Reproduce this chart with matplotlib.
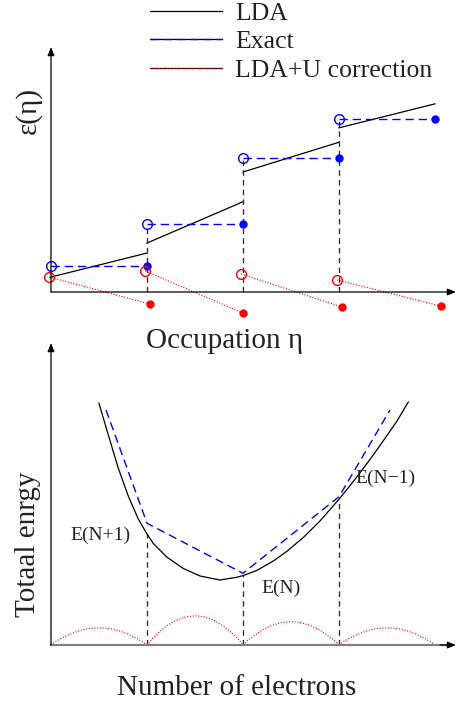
import matplotlib
matplotlib.use('Agg')
import matplotlib.pyplot as plt
from matplotlib.lines import Line2D
from matplotlib.legend_handler import HandlerTuple

plt.rcParams['font.family'] = ['Liberation Serif', 'DejaVu Serif']

# --- top panel: eigenvalue vs occupation ---
lda_x = [[0, 1], [1, 2], [2, 3], [3, 4]]
lda_y = [[0.156, 0.406], [0.51, 0.94], [1.25, 1.56], [1.71, 1.96]]
exact_lo = [0, 1, 2, 3]
exact_hi = [1, 2, 3, 4]
exact_y = [0.27, 0.71, 1.40, 1.80]
red_open_x = [-0.02, 0.98, 1.98, 2.98]
red_open_y = [0.156, 0.219, 0.188, 0.125]
red_fill_x = [1.03, 2.0, 3.03, 4.06]
red_fill_y = [-0.125, -0.219, -0.156, -0.146]
jump_x = [1, 2, 3]
jump_top = [0.71, 1.40, 1.80]

# --- bottom panel: total energy vs number of electrons ---
curve_x = [0.500, 0.597, 0.701, 0.805, 0.909, 1.000, 1.066, 1.205, 1.378, 1.552,
           1.760, 1.934, 2.003, 2.143, 2.316, 2.455, 2.628, 2.802, 2.993, 3.149,
           3.305, 3.427, 3.601, 3.722]
curve_y = [2.518, 2.188, 1.841, 1.552, 1.3125, 1.156, 1.057, 0.917, 0.797, 0.719,
           0.677, 0.705, 0.724, 0.776, 0.875, 0.974, 1.120, 1.292, 1.510, 1.703,
           1.909, 2.078, 2.328, 2.531]
exact_ex = [0.573, 1.0, 2.0, 3.0, 3.531]
exact_ey = [2.448, 1.268, 0.747, 1.545, 2.448]
arc_t = [0, 0.05, 0.1, 0.2, 0.3, 0.4, 0.5, 0.6, 0.7, 0.8, 0.9, 0.95, 1.0]
arc_shape = [0, 0.2, 0.36, 0.64, 0.84, 0.96, 1.0, 0.96, 0.84, 0.64, 0.36, 0.2, 0]
arc_start = [0, 1, 2, 3]
arc_peak = [0.18, 0.305, 0.243, 0.18]
drop_x = [1, 2, 3]
drop_top = [1.156, 0.724, 1.51]

W, H = 458, 705
fig = plt.figure(figsize=(W / 100, H / 100), dpi=100)

def px_axes(l, t, r, b):
    return fig.add_axes([l / W, (H - b) / H, (r - l) / W, (b - t) / H])

def clean(ax):
    for s in ax.spines.values():
        s.set_visible(False)
    ax.set_xticks([]); ax.set_yticks([])
    ax.patch.set_alpha(0)

arrow = dict(arrowstyle='-|>,head_length=0.5,head_width=0.2', color='black',
             lw=0.9, shrinkA=0, shrinkB=0)
dash = (0, (6, 3.5))
txt = '#222222'

ax1 = px_axes(40, 40, 458, 320)
clean(ax1)
ax1.set_xlim((40 - 51) / 96, (458 - 51) / 96)
ax1.set_ylim((292 - 320) / 96, (292 - 40) / 96)

for xs, ys in zip(lda_x, lda_y):
    l_lda, = ax1.plot(xs, ys, color='black', lw=0.9)
for x, top in zip(jump_x, jump_top):
    ax1.plot([x, x], [0, top], color='#333333', lw=1, ls=(0, (4, 3)))
for a, b, y in zip(exact_lo, exact_hi, exact_y):
    l_ex, = ax1.plot([a, b], [y, y], color='blue', lw=1, ls=dash)
ax1.plot(exact_lo, exact_y, 'o', mfc='none', mec='blue', ms=7, mew=1)
ax1.plot(exact_hi, exact_y, 'o', color='blue', ms=5)
for i in range(4):
    l_red, = ax1.plot([red_open_x[i], red_fill_x[i]], [red_open_y[i], red_fill_y[i]],
                      color='red', lw=0.8, ls=(0, (1, 1.5)))
ax1.plot(red_open_x, red_open_y, 'o', mfc='none', mec='red', ms=7, mew=1)
ax1.plot(red_fill_x, red_fill_y, 'o', color='red', ms=5)

ax1.annotate('', xy=((456 - 51) / 96, 0), xytext=(0, 0), arrowprops=arrow)
ax1.annotate('', xy=(0, (292 - 47) / 96), xytext=(0, 0), arrowprops=arrow)

blk = Line2D([], [], color='black', lw=0.9)
ax1.legend([l_lda, (blk, l_ex), (blk, l_red)], ['LDA', 'Exact', 'LDA+U correction'],
           handler_map={tuple: HandlerTuple(ndivide=1)},
           loc='upper left', bbox_to_anchor=(150 / W, 1 - 2 / H), bbox_transform=fig.transFigure,
           frameon=False, fontsize=18.5, handlelength=2.8, handletextpad=0.5,
           labelspacing=0.21, borderpad=0, borderaxespad=0, labelcolor=txt)

fig.text(28 / W, 1 - 111 / H, 'ε(η)', rotation=90, ha='center', va='center', fontsize=21, color=txt)
fig.text(225 / W, 1 - 341 / H, 'Occupation η', ha='center', va='center', fontsize=21, color=txt)

ax2 = px_axes(40, 335, 458, 665)
clean(ax2)
ax2.set_xlim((40 - 51) / 96, (458 - 51) / 96)
ax2.set_ylim((645 - 665) / 96, (645 - 335) / 96)

for s, pk in zip(arc_start, arc_peak):
    ax2.plot([s + t for t in arc_t], [pk * v for v in arc_shape],
             color='red', lw=0.8, ls=(0, (1, 1.5)))
for x, top in zip(drop_x, drop_top):
    ax2.plot([x, x], [0, top], color='#333333', lw=1, ls=(0, (4, 3)))
ax2.plot(curve_x, curve_y, color='black', lw=0.9)
ax2.plot(exact_ex, exact_ey, color='blue', lw=1, ls=dash)

ax2.plot([0, (452 - 51) / 96], [0, 0], color='#808080', lw=1.6)
ax2.annotate('', xy=((456 - 51) / 96, 0), xytext=((440 - 51) / 96, 0), arrowprops=arrow)
ax2.annotate('', xy=(0, (645 - 343) / 96), xytext=(0, 0), arrowprops=arrow)

ax2.text((100 - 51) / 96, (645 - 535) / 96, 'E(N+1)', ha='center', va='center', fontsize=14, color=txt)
ax2.text((281 - 51) / 96, (645 - 588) / 96, 'E(N)', ha='center', va='center', fontsize=14, color=txt)
ax2.text((385 - 51) / 96, (645 - 478) / 96, 'E(N−1)', ha='center', va='center', fontsize=14, color=txt)

fig.text(28 / W, 1 - 544 / H, 'Totaal enrgy', rotation=90, ha='center', va='center', fontsize=21, color=txt)
fig.text(237 / W, 1 - 688 / H, 'Number of electrons', ha='center', va='center', fontsize=21, color=txt)

fig.savefig('out.png', dpi=100)
